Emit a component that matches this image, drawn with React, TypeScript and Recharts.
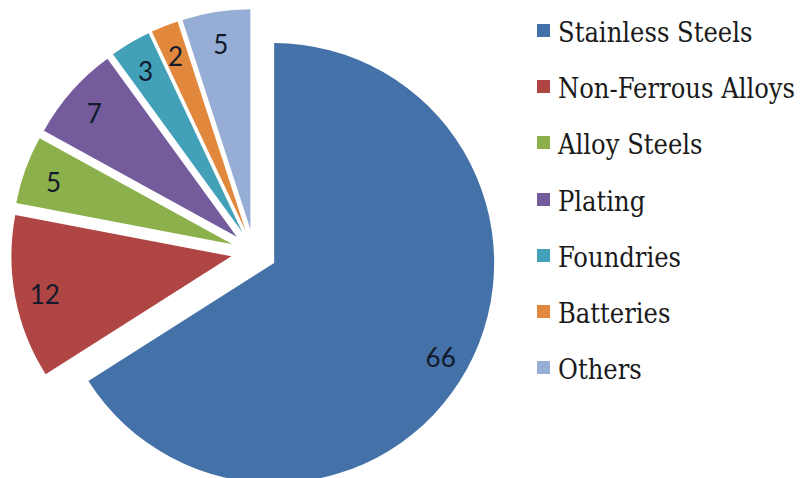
import { PieChart, Pie, Cell, Legend } from 'recharts';

const CATEGORIES = [
  'Stainless Steels',
  'Non-Ferrous Alloys',
  'Alloy Steels',
  'Plating',
  'Foundries',
  'Batteries',
  'Others',
];
const SHARES = [66, 12, 5, 7, 3, 2, 5];
const COLORS = ['#4472A8', '#B04644', '#8CB04B', '#745C9C', '#43A0B9', '#E2883C', '#96AED6'];

const RAD = Math.PI / 180;
const CX = 254;
const CY = 252;
const RADIUS = 220;
const EXPLODE = 23;
const LABEL_R = 190;

const total = SHARES.reduce((a, b) => a + b, 0);

// one Pie per slice so each can be pushed out along its own bisector
const slices = SHARES.map((value, i) => {
  const before = SHARES.slice(0, i).reduce((a, b) => a + b, 0);
  const startAngle = 90 - (360 * before) / total;
  const endAngle = startAngle - (360 * value) / total;
  const mid = (startAngle + endAngle) / 2;
  return {
    name: CATEGORIES[i],
    value,
    color: COLORS[i],
    startAngle,
    endAngle,
    cx: CX + Math.cos(mid * RAD) * EXPLODE,
    cy: CY - Math.sin(mid * RAD) * EXPLODE,
  };
});

const renderLabel = (props: any) => {
  const { cx, cy, midAngle, value } = props;
  const x = cx + Math.cos(-midAngle * RAD) * LABEL_R;
  const y = cy + Math.sin(-midAngle * RAD) * LABEL_R + 2;
  return (
    <text x={x} y={y} textAnchor="middle" dominantBaseline="central" fill="#111a2c" fontFamily="Lato" fontSize={26}>
      {value}
    </text>
  );
};

const renderLegend = () => (
  <div
    style={{
      fontFamily: '"DejaVu Serif"',
      fontStretch: 'condensed',
      fontSize: 27,
      color: '#1a1a1a',
    }}
  >
    {slices.map((s) => (
      <div key={s.name} style={{ position: 'relative', height: 56.2, lineHeight: '56.2px', whiteSpace: 'nowrap' }}>
        <span style={{ position: 'absolute', left: 0, top: 20, width: 13, height: 13, background: s.color }} />
        <span style={{ position: 'absolute', left: 21, top: 1 }}>{s.name}</span>
      </div>
    ))}
  </div>
);

export default function App() {
  return (
    <div style={{ position: 'fixed', left: 0, top: 0, width: 804, height: 478, background: '#fff' }}>
      <PieChart width={804} height={478} margin={{ top: 0, right: 0, bottom: 0, left: 0 }}>
        {slices.map((s) => (
          <Pie
            key={s.name}
            data={[s]}
            dataKey="value"
            nameKey="name"
            cx={s.cx}
            cy={s.cy}
            outerRadius={RADIUS}
            startAngle={s.startAngle}
            endAngle={s.endAngle}
            stroke="none"
            label={renderLabel}
            labelLine={false}
            isAnimationActive={false}
          >
            <Cell fill={s.color} />
          </Pie>
        ))}
        <Legend
          layout="vertical"
          align="right"
          verticalAlign="top"
          content={renderLegend}
          wrapperStyle={{ left: 537, top: 4, width: 267, right: 'auto' }}
        />
      </PieChart>
    </div>
  );
}
